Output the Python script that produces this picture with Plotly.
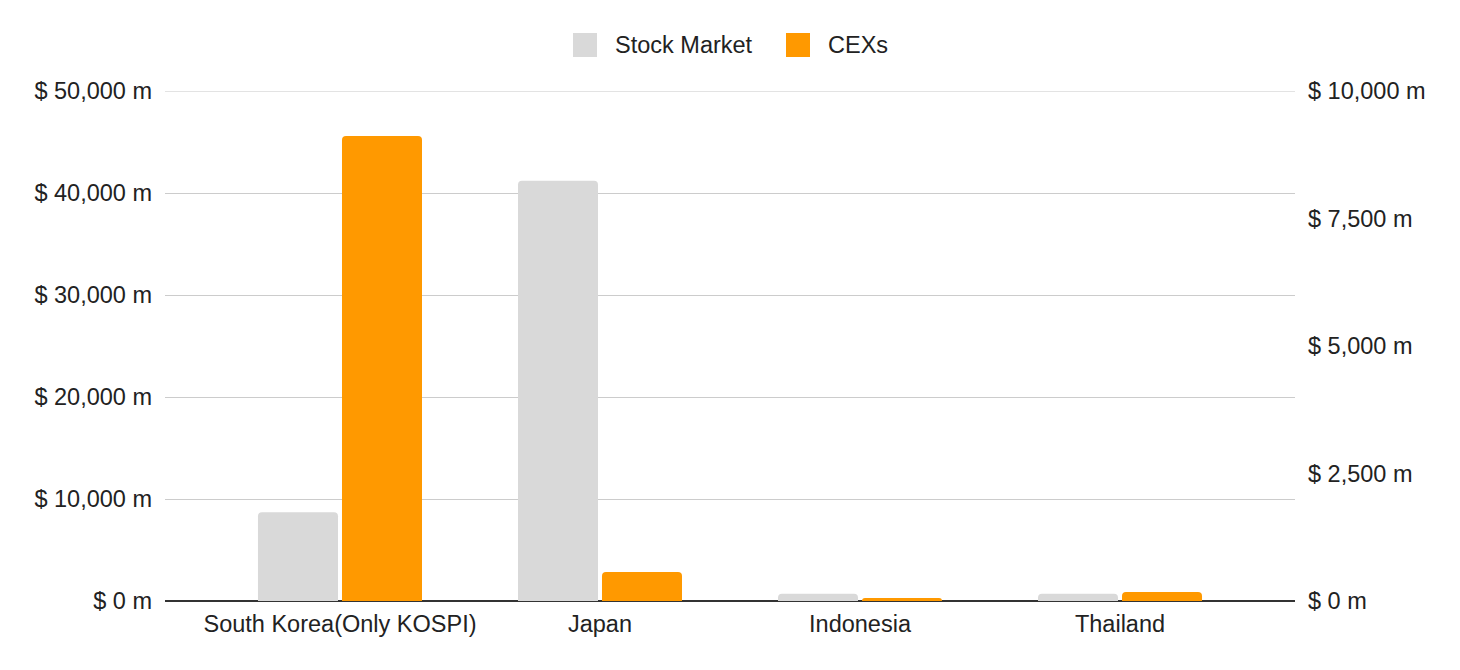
import plotly.graph_objects as go

categories = ["South Korea(Only KOSPI)", "Japan", "Indonesia", "Thailand"]
stock_market = [8700, 41200, 700, 700]      # left axis, $ m
cexs = [9120, 570, 60, 175]                 # right axis, $ m
left_ticks = [0, 10000, 20000, 30000, 40000, 50000]
right_ticks = [0, 2500, 5000, 7500, 10000]
series_names = ["Stock Market", "CEXs"]
series_colors = ["#d9d9d9", "#ff9900"]

FONT = "Liberation Sans, Arial, sans-serif"
fs = 23.5
TXT = "#222222"

# page body has 8px margin; figure sized so plot sits where the reference has it
W, H = 1452, 662
ML, MR, MT, MB = 157, 165, 83, 69
PW, PH = W - ML - MR, H - MT - MB

def px_to_paper_x(px):
    return (px - 8 - ML) / PW

def px_to_paper_y(py):
    return (H - MB - (py - 8)) / PH

fig = go.Figure()
fig.add_trace(go.Bar(
    x=categories, y=stock_market, name=series_names[0],
    marker=dict(color=series_colors[0], line=dict(width=0)),
    offsetgroup="1", yaxis="y",
))
fig.add_trace(go.Bar(
    x=categories, y=cexs, name=series_names[1],
    marker=dict(color=series_colors[1], line=dict(width=0)),
    offsetgroup="2", yaxis="y2",
))

# custom legend (large squares like the reference)
shapes = []
annotations = []
legend_items = [(573, 613), (786, 826)]
for (mx, tx), name, col in zip(legend_items, series_names, series_colors):
    x0, x1 = px_to_paper_x(mx), px_to_paper_x(mx + 24)
    y0, y1 = px_to_paper_y(57), px_to_paper_y(33)
    shapes.append(dict(type="rect", xref="paper", yref="paper",
                       x0=x0, x1=x1, y0=y0, y1=y1,
                       fillcolor=col, line=dict(width=0), layer="above"))
    annotations.append(dict(xref="paper", yref="paper", x=px_to_paper_x(tx),
                            y=px_to_paper_y(45), text=name, showarrow=False,
                            xanchor="left", yanchor="middle",
                            font=dict(size=fs, color=TXT, family=FONT)))

# top gridline (plotly culls the grid line at the range edge)
shapes.append(dict(type="line", xref="paper", yref="y", x0=0, x1=1,
                   y0=left_ticks[-1], y1=left_ticks[-1],
                   line=dict(color="#cccccc", width=1), layer="below"))

fig.update_layout(
    width=W, height=H,
    margin=dict(l=ML, r=MR, t=MT, b=MB, autoexpand=False),
    paper_bgcolor="white", plot_bgcolor="white",
    font=dict(family=FONT, size=fs, color=TXT),
    barmode="group", bargap=0.3538, bargroupgap=0.0476,
    barcornerradius=4,
    showlegend=False,
    shapes=shapes, annotations=annotations,
    xaxis=dict(
        type="category", range=[-0.673, 3.673],
        showgrid=False, showline=False, ticks="", ticklen=0,
        tickfont=dict(size=fs), ticklabelstandoff=6,
    ),
    yaxis=dict(
        range=[0, 50005], tickvals=left_ticks,
        ticktext=[f"$ {v:,} m" for v in left_ticks],
        showgrid=True, gridcolor="#cccccc", gridwidth=1,
        zeroline=True, zerolinecolor="#333333", zerolinewidth=2,
        showline=False, ticks="", ticklabelstandoff=12,
    ),
    yaxis2=dict(
        range=[0, 10001], tickvals=right_ticks,
        ticktext=[f"$ {v:,} m" for v in right_ticks],
        overlaying="y", side="right", showgrid=False,
        zeroline=False, showline=False, ticks="", ticklabelstandoff=12,
    ),
)

fig.write_html("out.html")
